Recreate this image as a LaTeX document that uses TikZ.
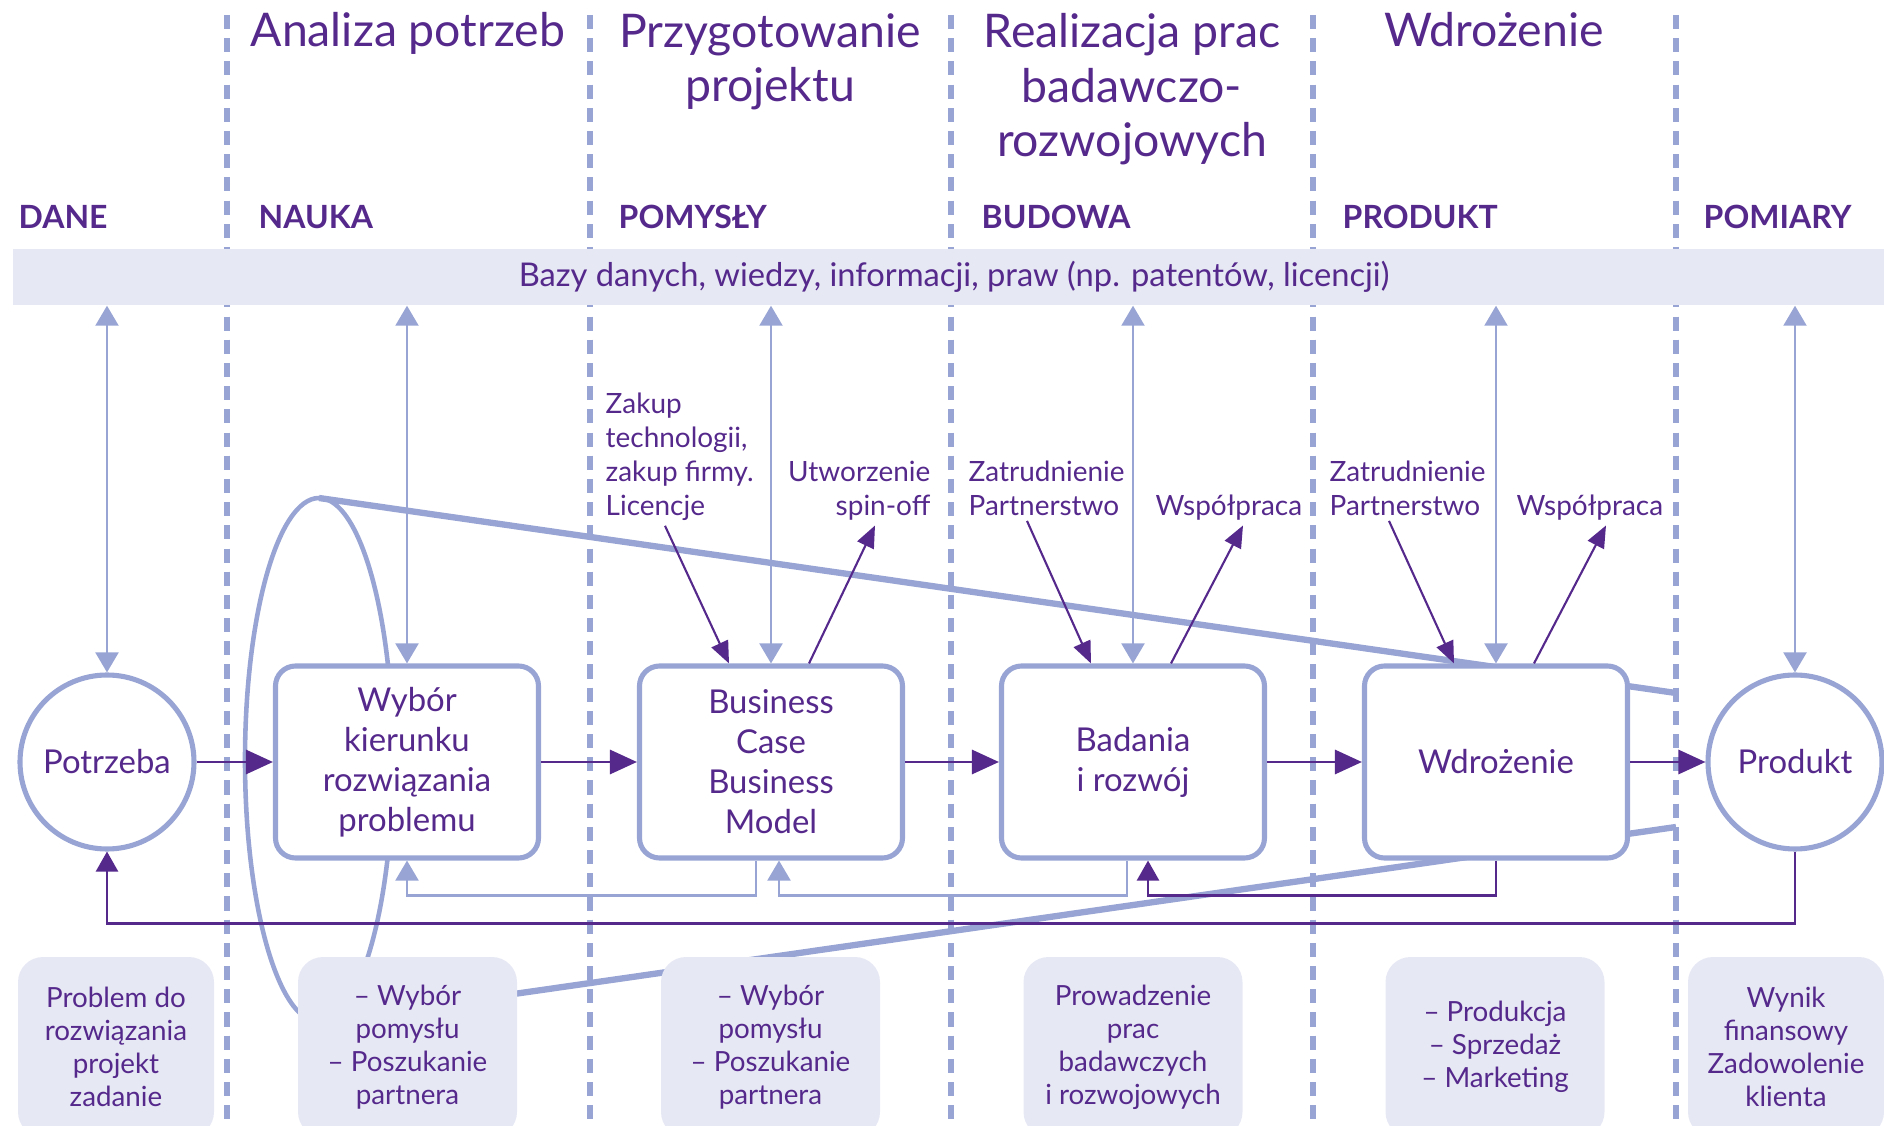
\documentclass[tikz,border=0pt]{standalone}
\usepackage{fontspec}
\setmainfont{Lato}
\usetikzlibrary{arrows.meta}

\definecolor{ink}{RGB}{85,40,140}
\definecolor{lav}{RGB}{152,165,212}
\definecolor{bandfill}{RGB}{230,232,244}

\tikzset{
    phasetitle/.style={align=center, anchor=base, inner sep=0pt, text=ink, font=\fontsize{13.2}{15.6}\selectfont},
    colhead/.style={anchor=base west, inner sep=0pt, text=ink, font=\fontsize{9.1}{11}\selectfont\bfseries},
    stagebox/.style={draw=lav, line width=1.45pt, fill=white, rounded corners=0.2cm, minimum width=2.63cm, minimum height=1.92cm, align=center, text=ink, font=\fontsize{9.35}{11.4}\selectfont},
    endcircle/.style={draw=lav, line width=1.45pt, fill=white, circle, minimum size=1.74cm, inner sep=0pt, text=ink, font=\fontsize{9.35}{11.4}\selectfont},
    notetext/.style={inner sep=0.04cm, text=ink, font=\fontsize{7.95}{9.7}\selectfont},
    infocard/.style={fill=bandfill, rounded corners=0.25cm, minimum height=1.8cm, align=center, text=ink, font=\fontsize{7.9}{9.4}\selectfont},
    divider/.style={lav, line width=1.6pt, dash pattern=on 4pt off 2.6pt},
    dblink/.style={lav, line width=0.6pt, {Triangle[length=0.2cm,width=0.23cm]}-{Triangle[length=0.2cm,width=0.23cm]}},
    flowarr/.style={ink, line width=0.85pt, -{Triangle[length=0.27cm,width=0.24cm]}},
    sidearr/.style={ink, line width=0.6pt, -{Triangle[length=0.22cm,width=0.18cm]}},
    backlight/.style={lav, line width=0.6pt, -{Triangle[length=0.2cm,width=0.23cm]}},
    backdark/.style={ink, line width=0.7pt, -{Triangle[length=0.2cm,width=0.22cm]}},
}

\begin{document}
\begin{tikzpicture}
        \useasboundingbox (0,0) rectangle (18.84,11.25);
        \clip (0,0) rectangle (18.84,11.25);

        % dashed column dividers
        \draw[divider] (2.27,11.10) -- (2.27,0);
        \draw[divider] (5.90,11.10) -- (5.90,0);
        \draw[divider] (9.51,11.10) -- (9.51,0);
        \draw[divider] (13.13,11.10) -- (13.13,0);
        \draw[divider] (16.76,11.10) -- (16.76,0);

        % phase titles (base = last line)
        \node[phasetitle] (tAnaliza) at (4.08,10.78) {Analiza potrzeb};
        \node[phasetitle] (tPrzyg) at (7.70,10.23) {Przygotowanie\\projektu};
        \node[phasetitle] (tReal) at (11.32,9.68) {Realizacja prac\\badawczo-\\rozwojowych};
        \node[phasetitle] (tWdroz) at (14.94,10.78) {Wdrożenie};

        \node[colhead] (hDane) at (0.18,8.96) {DANE};
        \node[colhead] (hNauka) at (2.58,8.96) {NAUKA};
        \node[colhead] (hPomysly) at (6.18,8.96) {POMYSŁY};
        \node[colhead] (hBudowa) at (9.81,8.96) {BUDOWA};
        \node[colhead] (hProdukt) at (13.42,8.96) {PRODUKT};
        \node[colhead] (hPomiary) at (17.03,8.96) {POMIARY};

        % knowledge base band
        \node[fill=bandfill, minimum width=18.82cm, minimum height=0.56cm, inner sep=0pt, text=ink, font=\fontsize{9.3}{11}\selectfont] (band) at (9.54,8.48) {Bazy danych, wiedzy, informacji, praw (np. patentów, licencji)};

        % funnel behind the stages
        \draw[lav, line width=1.3pt] (3.19,3.65) ellipse (0.74 and 2.62);
        \draw[lav, line width=1.8pt] (3.19,6.27) -- (16.76,4.32);
        \draw[lav, line width=1.8pt] (3.19,1.03) -- (16.76,2.98);

        % stages
        \node[endcircle] (potrzeba) at (1.07,3.63) {Potrzeba};
        \node[stagebox] (wybor) at (4.07,3.63) {Wybór\\kierunku\\rozwiązania\\problemu};
        \node[stagebox] (bcase) at (7.71,3.63) {Business\\Case\\Business\\Model};
        \node[stagebox] (badania) at (11.33,3.63) {Badania\\i rozwój};
        \node[stagebox] (wdroz) at (14.96,3.63) {Wdrożenie};
        \node[endcircle] (produkt) at (17.95,3.63) {Produkt};

        % cards at the bottom
        \node[infocard, minimum width=1.96cm] (cProblem) at (1.16,0.78) {Problem do\\rozwiązania\\projekt\\zadanie};
        \node[infocard, minimum width=2.19cm] (cWybor) at (4.075,0.78) {– Wybór\\pomysłu\\– Poszukanie\\partnera};
        \node[infocard, minimum width=2.19cm] (cPartner) at (7.705,0.78) {– Wybór\\pomysłu\\– Poszukanie\\partnera};
        \node[infocard, minimum width=2.19cm] (cPrace) at (11.33,0.78) {Prowadzenie\\prac\\badawczych\\i rozwojowych};
        \node[infocard, minimum width=2.19cm] (cRynek) at (14.95,0.78) {– Produkcja\\– Sprzedaż\\– Marketing};
        \node[infocard, minimum width=1.96cm] (cWynik) at (17.86,0.78) {Wynik\\finansowy\\Zadowolenie\\klienta};

        % side notes
        \node[notetext, align=left, anchor=base west] (zakup) at (6.01,6.09) {Zakup\\technologii,\\zakup firmy.\\Licencje};
        \node[notetext, align=right, anchor=base east] (spin) at (9.35,6.09) {Utworzenie\\spin-off};
        \node[notetext, align=left, anchor=base west] (zatrA) at (9.64,6.09) {Zatrudnienie\\Partnerstwo};
        \node[notetext, anchor=base west] (wspA) at (11.51,6.09) {Współpraca};
        \node[notetext, align=left, anchor=base west] (zatrB) at (13.25,6.09) {Zatrudnienie\\Partnerstwo};
        \node[notetext, anchor=base west] (wspB) at (15.12,6.09) {Współpraca};

        % links to the band
        \draw[dblink] (potrzeba.north |- band.south) -- (potrzeba.north);
        \draw[dblink] (wybor.north |- band.south) -- (wybor.north);
        \draw[dblink] (bcase.north |- band.south) -- (bcase.north);
        \draw[dblink] (badania.north |- band.south) -- (badania.north);
        \draw[dblink] (wdroz.north |- band.south) -- (wdroz.north);
        \draw[dblink] (produkt.north |- band.south) -- (produkt.north);

        % main flow
        \draw[flowarr] (potrzeba.east) -- (wybor.west);
        \draw[flowarr] (wybor.east) -- (bcase.west);
        \draw[flowarr] (bcase.east) -- (badania.west);
        \draw[flowarr] (badania.east) -- (wdroz.west);
        \draw[flowarr] (wdroz.east) -- (produkt.west);

        % notes in and out
        \draw[sidearr] ([xshift=0.64cm]zakup.south west) -- ([xshift=-0.42cm]bcase.north);
        \draw[sidearr] ([xshift=0.38cm]bcase.north) -- ([xshift=-0.60cm]spin.south east);
        \draw[sidearr] ([xshift=0.63cm]zatrA.south west) -- ([xshift=-0.42cm]badania.north);
        \draw[sidearr] ([xshift=0.38cm]badania.north) -- ([xshift=0.92cm]wspA.south west);
        \draw[sidearr] ([xshift=0.64cm]zatrB.south west) -- ([xshift=-0.42cm]wdroz.north);
        \draw[sidearr] ([xshift=0.38cm]wdroz.north) -- ([xshift=0.94cm]wspB.south west);

        % feedback lines
        \draw[backlight] ([xshift=-0.15cm]bcase.south) -- ++(0,-0.35) -| (wybor.south);
        \draw[backlight] ([xshift=-0.06cm]badania.south) -- ++(0,-0.35) -| ([xshift=0.08cm]bcase.south);
        \draw[backdark] (wdroz.south) -- ++(0,-0.35) -| ([xshift=0.15cm]badania.south);
        \draw[backdark] (produkt.south) -- ++(0,-0.72) -| (potrzeba.south);
\end{tikzpicture}
\end{document}
